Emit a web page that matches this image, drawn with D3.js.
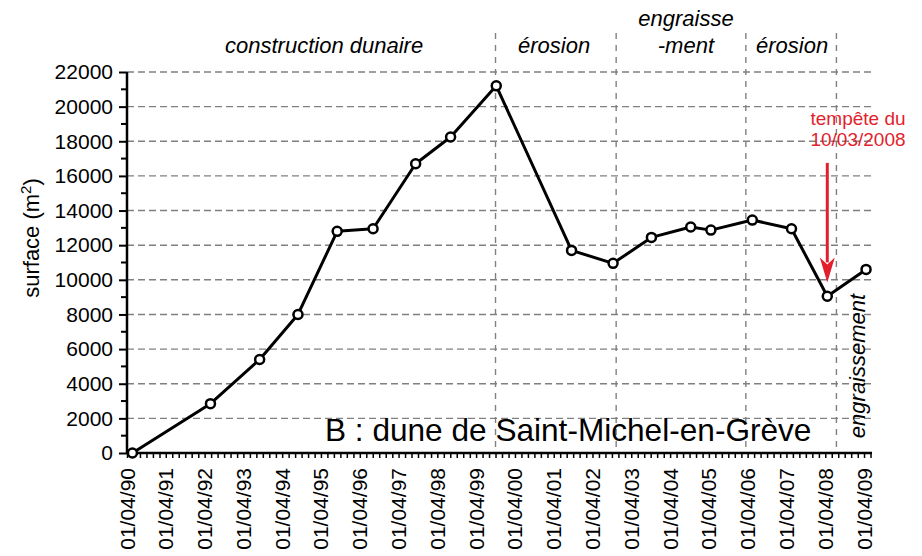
<!DOCTYPE html>
<html>
<head>
<meta charset="utf-8">
<style>
  body { margin: 0; background: #fff; }
  svg { display: block; font-family: "Liberation Sans", Arial, sans-serif; }
</style>
</head>
<body>
<div id="chart"></div>
<script src="https://d3js.org/d3.v7.min.js"></script>
<script>
'use strict';

// survey dates and dune surface (m2)
var dates = ['1990-05-22', '1992-05-26', '1993-09-01', '1994-08-28', '1995-09-01',
             '1996-08-04', '1997-09-09', '1998-08-04', '1999-10-08', '2001-09-16',
             '2002-10-12', '2003-10-08', '2004-10-12', '2005-04-20', '2006-05-15',
             '2007-05-19', '2008-04-20', '2009-04-20'];
var surfaces = [0, 2850, 5400, 8000, 12800, 12950, 16700, 18250, 21200, 11700,
                10950, 12450, 13050, 12870, 13450, 12950, 9050, 10600];

// phase boundaries and labels (label placed at a date)
var phaseBreaks = ['1999-10-01', '2002-11-10', '2006-03-15', '2008-07-15'];
var phaseLabels = [
  { at: '1995-05-01', lines: ['construction dunaire'] },
  { at: '2001-04-05', lines: ['érosion'] },
  { at: '2004-08-28', lines: ['engraisse', '-ment'] },
  { at: '2007-05-25', lines: ['érosion'] }
];
var lastPhase = 'engraissement';

var yTicks = d3.range(0, 22001, 2000);
var yMinor = d3.range(1000, 22000, 2000);
var stormLabel = ['tempête du', '10/03/2008'];
var stormArrow = { date: '2008-04-20', from: 16750, to: 9850 };

var parse = d3.timeParse('%Y-%m-%d');
var data = dates.map(function (d, i) { return { date: parse(d), v: surfaces[i] }; });

var width = 922, height = 556;
var x0 = 127, x1 = 872, yTop = 72, yBot = 453;

var svg = d3.select('#chart').append('svg')
  .attr('width', width).attr('height', height);

var x = d3.scaleTime()
  .domain([parse('1990-04-01'), parse('2009-06-15')])
  .range([x0, x1]);
var y = d3.scaleLinear().domain([0, 22000]).range([yBot, yTop]);

// horizontal grid
svg.append('g').selectAll('line')
  .data(yTicks.filter(function (d) { return d > 0; }))
  .join('line')
  .attr('x1', x0).attr('x2', x1)
  .attr('y1', function (d) { return y(d); }).attr('y2', function (d) { return y(d); })
  .attr('stroke', '#808080').attr('stroke-width', 1.4)
  .attr('stroke-dasharray', '7,4');

// phase separators
svg.append('g').selectAll('line')
  .data(phaseBreaks)
  .join('line')
  .attr('x1', function (d) { return x(parse(d)); }).attr('x2', function (d) { return x(parse(d)); })
  .attr('y1', 33).attr('y2', yBot)
  .attr('stroke', '#808080').attr('stroke-width', 1.4)
  .attr('stroke-dasharray', '6,6');

// x axis
var yearTicks = d3.timeYear.range(parse('1990-01-01'), parse('2010-01-01'))
  .map(function (d) { return d3.timeMonth.offset(d, 3); });
var monthTicks = d3.timeMonth.range(parse('1990-04-01'), parse('2009-06-02'))
  .filter(function (d, i) { return i % 2 === 0; });

var xAxis = svg.append('g')
  .attr('transform', 'translate(0,' + yBot + ')')
  .call(d3.axisBottom(x).tickValues(monthTicks).tickSize(5).tickFormat(''));
xAxis.select('.domain').attr('stroke-width', 2.5).attr('d', 'M' + x0 + ',0H' + x1);
xAxis.selectAll('.tick line').attr('stroke-width', 1.5);

svg.append('g').selectAll('text')
  .data(yearTicks)
  .join('text')
  .attr('transform', function (d) { return 'translate(' + (x(d) + 7.5) + ',' + (yBot + 15) + ') rotate(-90)'; })
  .attr('text-anchor', 'end')
  .attr('font-size', 21)
  .text(d3.timeFormat('%d/%m/%y'));

// y axis
var yAxis = svg.append('g')
  .attr('transform', 'translate(' + x0 + ',0)')
  .call(d3.axisLeft(y).tickValues(yTicks).tickSize(8).tickPadding(6).tickFormat(d3.format('d')));
yAxis.select('.domain').attr('stroke-width', 2.5).attr('d', 'M0,' + yTop + 'V' + yBot);
yAxis.selectAll('.tick line').attr('stroke-width', 2);
yAxis.selectAll('text').attr('font-size', 21).attr('font-family', '"Liberation Sans", Arial, sans-serif');

svg.append('g').selectAll('line')
  .data(yMinor)
  .join('line')
  .attr('x1', x0 - 6).attr('x2', x0)
  .attr('y1', function (d) { return y(d); }).attr('y2', function (d) { return y(d); })
  .attr('stroke', '#000').attr('stroke-width', 2);

var yl = svg.append('text')
  .attr('transform', 'translate(39,238) rotate(-90)')
  .attr('text-anchor', 'middle')
  .attr('font-size', 22);
yl.append('tspan').text('surface (m');
yl.append('tspan').attr('font-size', 15).attr('dy', -8).text('2');
yl.append('tspan').attr('dy', 8).text(')');

// title inside plot
svg.append('text')
  .attr('x', 325).attr('y', 441)
  .attr('font-size', 31.6)
  .text('B : dune de Saint-Michel-en-Grève');

// phase labels
phaseLabels.forEach(function (p) {
  var cx = x(parse(p.at));
  var n = p.lines.length;
  p.lines.forEach(function (t, i) {
    svg.append('text')
      .attr('x', cx).attr('y', 53 - (n - 1 - i) * 27)
      .attr('text-anchor', 'middle')
      .attr('font-size', 22).attr('font-style', 'italic')
      .text(t);
  });
});
svg.append('text')
  .attr('transform', 'translate(865,366) rotate(-90)')
  .attr('text-anchor', 'middle')
  .attr('font-size', 22).attr('font-style', 'italic')
  .text(lastPhase);

// line and markers
var line = d3.line()
  .x(function (d) { return x(d.date); })
  .y(function (d) { return y(d.v); });

svg.append('path')
  .datum(data)
  .attr('d', line)
  .attr('fill', 'none').attr('stroke', '#000')
  .attr('stroke-width', 3).attr('stroke-linejoin', 'round');

svg.append('g').selectAll('circle')
  .data(data)
  .join('circle')
  .attr('cx', function (d) { return x(d.date); })
  .attr('cy', function (d) { return y(d.v); })
  .attr('r', 4.5)
  .attr('fill', '#fff').attr('stroke', '#000').attr('stroke-width', 2.5);

// storm annotation
var red = '#e31e2d';
var ax = x(parse(stormArrow.date));
var ay0 = y(stormArrow.from), ay1 = y(stormArrow.to);
svg.append('line')
  .attr('x1', ax).attr('x2', ax).attr('y1', ay0).attr('y2', ay1 - 20)
  .attr('stroke', red).attr('stroke-width', 3);
svg.append('path')
  .attr('d', 'M' + (ax - 7.5) + ',' + (ay1 - 25) + 'L' + ax + ',' + ay1 + 'L' + (ax + 7.5) + ',' + (ay1 - 25) + 'L' + ax + ',' + (ay1 - 18) + 'Z')
  .attr('fill', red);
stormLabel.forEach(function (t, i) {
  svg.append('text')
    .attr('x', 858).attr('y', 125 + i * 21)
    .attr('text-anchor', 'middle')
    .attr('font-size', 19).attr('fill', red)
    .text(t);
});
</script>
</body>
</html>
